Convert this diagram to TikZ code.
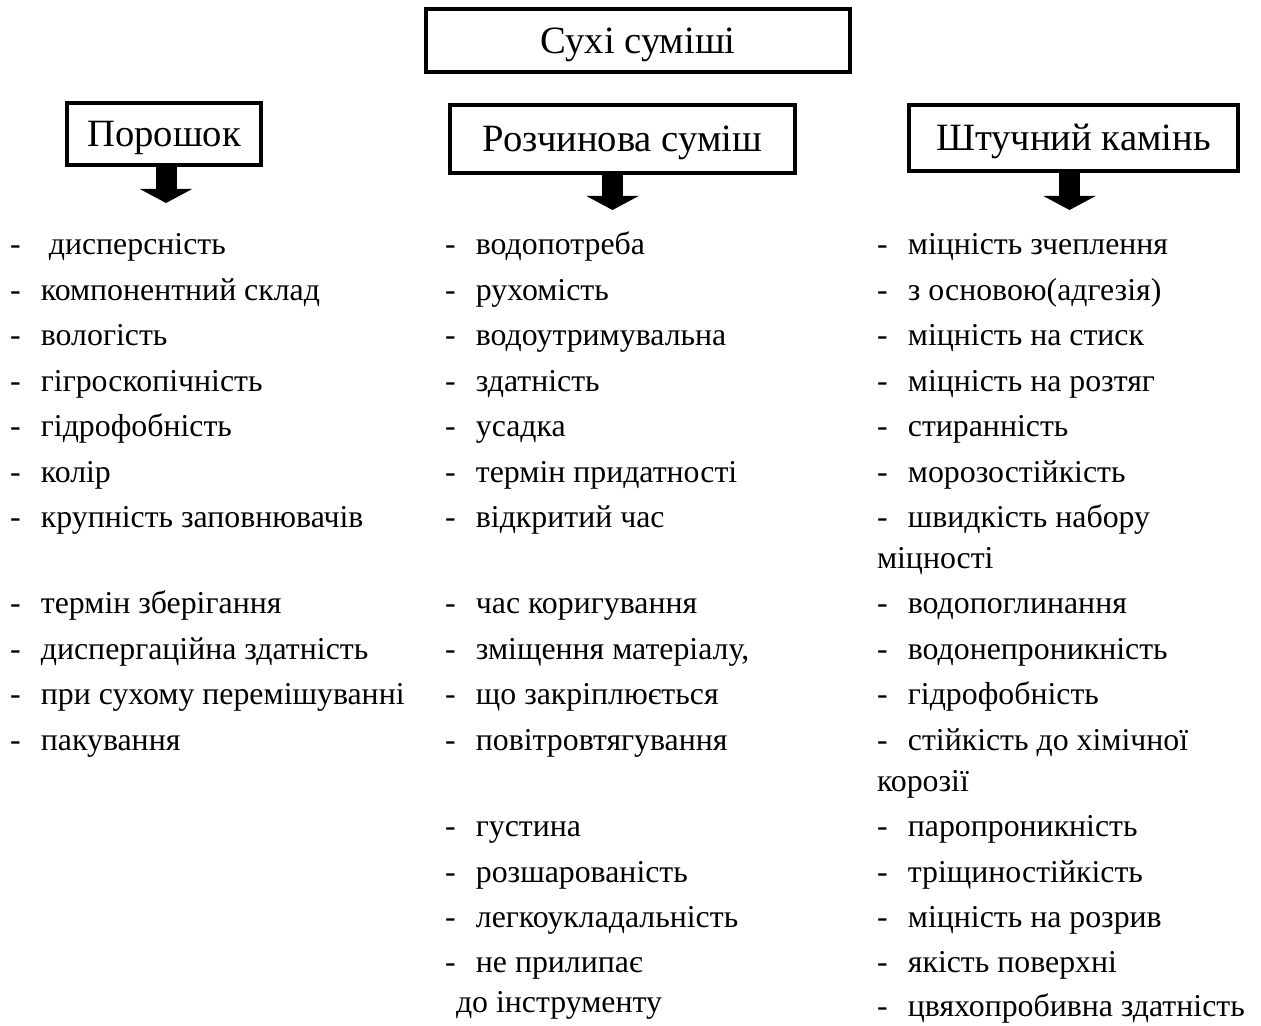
\documentclass[tikz,border=0pt]{standalone}
\usepackage{fontspec}
\setmainfont{Liberation Serif}
\usetikzlibrary{arrows.meta, positioning}
\newlength{\upx}
\setlength{\upx}{0.44pt}
\newcommand{\itemdash}{\makebox[13.6pt][l]{-}}
\tikzset{head/.style={draw, line width=1.9pt, inner sep=0pt, outer sep=0pt, text height=11.1pt, text depth=0pt, font=\fontsize{17}{20}\selectfont}}
\tikzset{item/.style={anchor=north west, inner sep=0pt, outer sep=0pt, text height=10pt, text depth=4pt, font=\fontsize{14}{16}\selectfont}}
\tikzset{down/.style={line width=9.24pt, -{Triangle[width=22.9pt, length=6.2pt]}}}

\begin{document}
\begin{tikzpicture}[x=\upx, y=-\upx, node distance=6pt]
\useasboundingbox (0,0) rectangle (1261,1025);
\node[head, minimum width=424\upx, minimum height=63\upx] (dry) at (638,40.5) {Сухі суміші};
\node[head, minimum width=194\upx, minimum height=62\upx] (powder) at (164,134) {Порошок};
\node[head, minimum width=345\upx, minimum height=68\upx] (mortar) at (622.5,139) {Розчинова суміш};
\node[head, minimum width=329\upx, minimum height=66\upx] (stone) at (1073.5,138) {Штучний камінь};

\draw[down] ([xshift=2\upx]powder.south) -- ++(0,38);
\draw[down] ([xshift=-10\upx]mortar.south) -- ++(0,37);
\draw[down] ([xshift=-4\upx]stone.south) -- ++(0,39);

% powder
\node[item] (p1) at (10,232) {\itemdash\ дисперсність};
\node[below=of p1.south west, item] (p2) {\itemdash компонентний склад};
\node[below=of p2.south west, item] (p3) {\itemdash вологість};
\node[below=of p3.south west, item] (p4) {\itemdash гігроскопічність};
\node[below=of p4.south west, item] (p5) {\itemdash гідрофобність};
\node[below=of p5.south west, item] (p6) {\itemdash колір};
\node[below=of p6.south west, item] (p7) {\itemdash крупність заповнювачів};
\node[below=24pt of p7.south west, item] (p8) {\itemdash термін зберігання};
\node[below=of p8.south west, item] (p9) {\itemdash диспергаційна здатність};
\node[below=of p9.south west, item] (p10) {\itemdash при сухому перемішуванні};
\node[below=of p10.south west, item] (p11) {\itemdash пакування};

% mortar
\node[item] (m1) at (445,232) {\itemdash водопотреба};
\node[below=of m1.south west, item] (m2) {\itemdash рухомість};
\node[below=of m2.south west, item] (m3) {\itemdash водоутримувальна};
\node[below=of m3.south west, item] (m4) {\itemdash здатність};
\node[below=of m4.south west, item] (m5) {\itemdash усадка};
\node[below=of m5.south west, item] (m6) {\itemdash термін придатності};
\node[below=of m6.south west, item] (m7) {\itemdash відкритий час};
\node[below=24pt of m7.south west, item] (m8) {\itemdash час коригування};
\node[below=of m8.south west, item] (m9) {\itemdash зміщення матеріалу,};
\node[below=of m9.south west, item] (m10) {\itemdash що закріплюється};
\node[below=of m10.south west, item] (m11) {\itemdash повітровтягування};
\node[below=24pt of m11.south west, item] (m12) {\itemdash густина};
\node[below=of m12.south west, item] (m13) {\itemdash розшарованість};
\node[below=of m13.south west, item] (m14) {\itemdash легкоукладальність};
\node[below=of m14.south west, item] (m15) {\itemdash не прилипає};
\node[below=3.6pt of m15.south west, item, xshift=11\upx] (m16) {до інструменту};

% stone
\node[item] (s1) at (877,232) {\itemdash міцність зчеплення};
\node[below=of s1.south west, item] (s2) {\itemdash з основою(адгезія)};
\node[below=of s2.south west, item] (s3) {\itemdash міцність на стиск};
\node[below=of s3.south west, item] (s4) {\itemdash міцність на розтяг};
\node[below=of s4.south west, item] (s5) {\itemdash стиранність};
\node[below=of s5.south west, item] (s6) {\itemdash морозостійкість};
\node[below=of s6.south west, item] (s7) {\itemdash швидкість набору};
\node[below=4pt of s7.south west, item] (s8) {міцності};
\node[below=of s8.south west, item] (s9) {\itemdash водопоглинання};
\node[below=of s9.south west, item] (s10) {\itemdash водонепроникність};
\node[below=of s10.south west, item] (s11) {\itemdash гідрофобність};
\node[below=of s11.south west, item] (s12) {\itemdash стійкість до хімічної};
\node[below=4pt of s12.south west, item] (s13) {корозії};
\node[below=of s13.south west, item] (s14) {\itemdash паропроникність};
\node[below=of s14.south west, item] (s15) {\itemdash тріщиностійкість};
\node[below=of s15.south west, item] (s16) {\itemdash міцність на розрив};
\node[below=of s16.south west, item] (s17) {\itemdash якість поверхні};
\node[below=5pt of s17.south west, item] (s18) {\itemdash цвяхопробивна здатність};
\end{tikzpicture}
\end{document}
